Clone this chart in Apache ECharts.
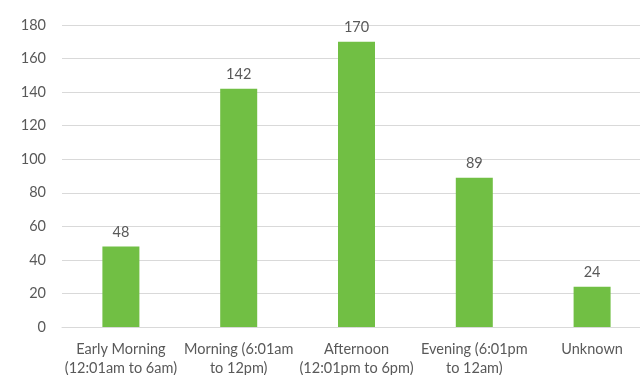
<!DOCTYPE html>
<html>
<head>
<meta charset="utf-8">
<script src="https://cdn.jsdelivr.net/npm/echarts@6/dist/echarts.min.js"></script>
<style>
  html, body { margin: 0; padding: 0; background: #fff; overflow: hidden; }
  #wrap { width: 640px; height: 375px; overflow: hidden; }
  #chart { width: 651px; height: 375px; }
</style>
</head>
<body>
<div id="wrap"><div id="chart"></div></div>
<script>
// Time-of-day buckets and their counts
const categories = [
  'Early Morning\n(12:01am to 6am)',
  'Morning (6:01am\nto 12pm)',
  'Afternoon\n(12:01pm to 6pm)',
  'Evening (6:01pm\nto 12am)',
  'Unknown'
];
const counts = [48, 142, 170, 89, 24];
const yTicks = { min: 0, max: 180, interval: 20 };

const textColor = '#595959';
const font = 'Lato, "Open Sans", sans-serif';

const chart = echarts.init(document.getElementById('chart'), null, { renderer: 'canvas' });
chart.setOption({
  animation: false,
  grid: { left: 62, top: 25, bottom: 48, right: 0, outerBoundsMode: 'none', containLabel: false },
  xAxis: {
    type: 'category',
    data: categories,
    axisLine: { lineStyle: { color: '#d9d9d9', width: 1 } },
    axisTick: { show: false },
    axisLabel: {
      color: textColor, fontFamily: font, fontSize: 14.5,
      lineHeight: 19, margin: 13, interval: 0
    }
  },
  yAxis: {
    type: 'value',
    min: yTicks.min, max: yTicks.max, interval: yTicks.interval,
    axisLine: { show: false },
    axisTick: { show: false },
    splitLine: { lineStyle: { color: '#d9d9d9', width: 1 } },
    axisLabel: { color: textColor, fontFamily: font, fontSize: 14.5, margin: 16 }
  },
  series: [{
    type: 'bar',
    data: counts,
    barWidth: 37,
    itemStyle: { color: '#71bf44' },
    label: {
      show: true, position: 'top', distance: 7,
      color: textColor, fontFamily: font, fontSize: 14.5
    }
  }]
});
</script>
</body>
</html>
